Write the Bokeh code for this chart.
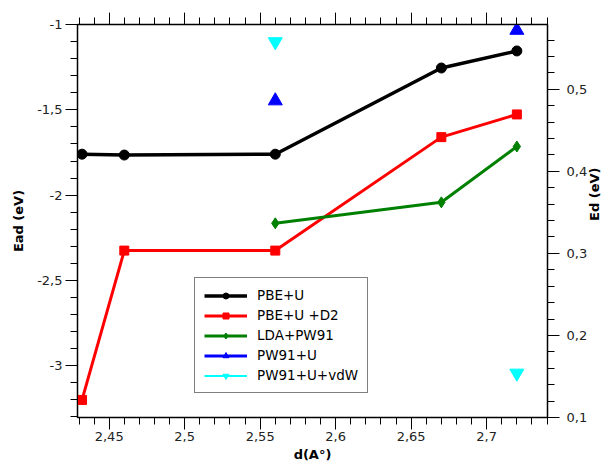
import math
from bokeh.plotting import figure
from bokeh.models import (Range1d, LinearAxis, FixedTicker, Legend, LegendItem)
from bokeh.embed import file_html
from bokeh.resources import INLINE

# ---- data ----
d_values = [2.432, 2.46, 2.56, 2.67, 2.72]
pbe_u = [-1.76, -1.765, -1.76, -1.255, -1.155]
pbe_u_d2 = [-3.2, -2.325, -2.325, -1.66, -1.527]
lda_x = [2.56, 2.67, 2.72]
lda_pw91 = [-2.165, -2.042, -1.715]
pw91_x = [2.56, 2.72]
pw91_u = [0.486, 0.572]          # Ed (eV), right axis
pw91_u_vdw = [0.558, 0.154]      # Ed (eV), right axis

# ---- ticks ----
x_major = [2.45, 2.5, 2.55, 2.6, 2.65, 2.7]
x_labels = ["2,45", "2,5", "2,55", "2,6", "2,65", "2,7"]
y_major = [-3.0, -2.5, -2.0, -1.5, -1.0]
y_labels = ["-3", "-2,5", "-2", "-1,5", "-1"]
ed_major = [0.1, 0.2, 0.3, 0.4, 0.5]
ed_labels = ["0,1", "0,2", "0,3", "0,4", "0,5"]

x_minor = [round(2.43 + 0.01 * i, 2) for i in range(32)]
y_minor = [round(-3.3 + 0.1 * i, 1) for i in range(24)]
ed_minor = [round(0.1 + 0.02 * i, 2) for i in range(24)]

FONT = "DejaVu Sans"

p = figure(frame_width=470, frame_height=393, output_backend="svg", toolbar_location=None,
           title_location=None,
           x_range=Range1d(2.429, 2.7403), y_range=Range1d(-3.303, -1.0),
           min_border_left=77, min_border_right=10, min_border_top=24,
           min_border_bottom=10)
p.extra_y_ranges = {"ed": Range1d(0.1, 0.579)}
p.grid.visible = False
p.outline_line_color = "black"
p.outline_line_width = 1.5


def style_axis(ax, major, labels, minor):
    ax.ticker = FixedTicker(ticks=major, minor_ticks=minor)
    ax.major_label_overrides = {float(v): l for v, l in zip(major, labels)}
    ax.level = "annotation"
    ax.axis_line_color = "black"
    ax.major_tick_line_color = "black"
    ax.minor_tick_line_color = "black"
    ax.major_tick_out = 12
    ax.minor_tick_out = 7
    ax.major_tick_in = 0
    ax.minor_tick_in = 0
    ax.major_label_text_font = FONT
    ax.major_label_text_font_size = "13px"
    ax.major_label_text_color = "#222222"
    ax.axis_label_text_font = FONT
    ax.axis_label_text_font_style = "bold"
    ax.axis_label_text_font_size = "13px"
    ax.axis_label_text_color = "black"


xa = p.xaxis[0]
style_axis(xa, x_major, x_labels, x_minor)
xa.axis_label = "d(A°)"
xa.major_label_standoff = 2
xa.axis_label_standoff = 3

ya = p.yaxis[0]
style_axis(ya, y_major, y_labels, y_minor)
ya.axis_label = "Ead (eV)"
ya.major_label_standoff = 3
ya.axis_label_standoff = 8

ra = LinearAxis(y_range_name="ed")
style_axis(ra, ed_major, ed_labels, ed_minor)
ra.axis_label = "Ed (eV)"
ra.axis_label_orientation = math.pi / 2
ra.major_label_standoff = 7
ra.axis_label_standoff = 4
p.add_layout(ra, "right")

ta = LinearAxis()
style_axis(ta, x_major, x_labels, x_minor)
ta.major_label_text_font_size = "1px"
ta.major_label_text_color = "white"
ta.major_label_standoff = 0
p.add_layout(ta, "above")

# ---- series ----
l1 = p.line(d_values, pbe_u, line_color="black", line_width=3.5)
m1 = p.scatter(d_values, pbe_u, marker="circle", size=10, fill_color="black", line_color="black")

l2 = p.line(d_values, pbe_u_d2, line_color="red", line_width=3)
m2 = p.scatter(d_values, pbe_u_d2, marker="square", size=9, fill_color="red", line_color="red")

l3 = p.line(lda_x, lda_pw91, line_color="green", line_width=3)
m3 = p.scatter(lda_x, lda_pw91, marker="diamond", size=11, fill_color="green", line_color="green")

# legend-only lines for the two marker-only series (not drawn on the plot)
l4 = p.line(pw91_x, pw91_u, line_color="blue", line_width=3, y_range_name="ed", visible=False)
m4 = p.scatter(pw91_x, pw91_u, marker="triangle", size=14, fill_color="blue", line_color="blue",
               y_range_name="ed")

l5 = p.line(pw91_x, pw91_u_vdw, line_color="cyan", line_width=2, y_range_name="ed", visible=False)
m5 = p.scatter(pw91_x, pw91_u_vdw, marker="inverted_triangle", size=14, fill_color="cyan",
               line_color="cyan", y_range_name="ed")

legend = Legend(items=[
    LegendItem(label="PBE+U", renderers=[l1, m1]),
    LegendItem(label="PBE+U +D2", renderers=[l2, m2]),
    LegendItem(label="LDA+PW91", renderers=[l3, m3]),
    LegendItem(label="PW91+U", renderers=[l4, m4]),
    LegendItem(label="PW91+U+vdW", renderers=[l5, m5]),
], location=(117, 24))
legend.border_line_color = "black"
legend.border_line_width = 1.2
legend.background_fill_color = "white"
legend.background_fill_alpha = 1
legend.label_text_font = FONT
legend.label_text_font_size = "13.5px"
legend.label_text_color = "black"
legend.glyph_width = 43
legend.glyph_height = 15
legend.label_height = 15
legend.spacing = 4
legend.padding = 9
legend.margin = 0
legend.label_standoff = 10
p.add_layout(legend, "center")

open("out.html", "w").write(file_html(p, INLINE))
